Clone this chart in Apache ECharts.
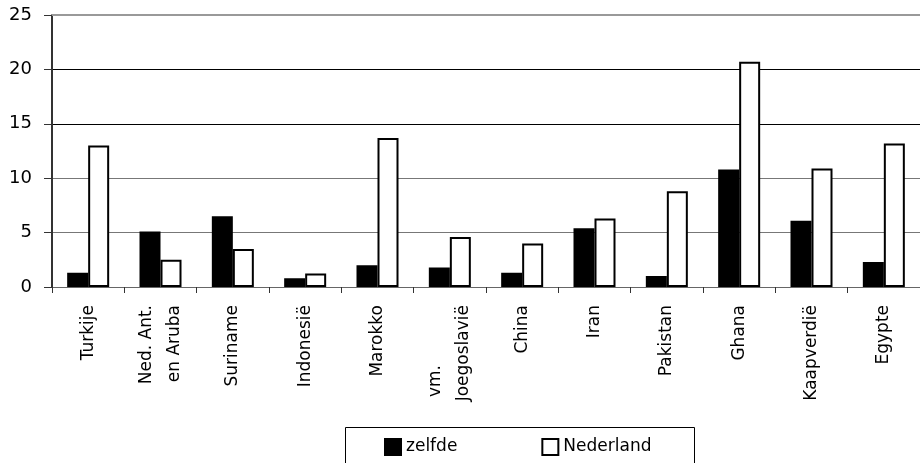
<!DOCTYPE html>
<html>
<head>
<meta charset="utf-8">
<script src="https://cdn.jsdelivr.net/npm/echarts@6/dist/echarts.min.js"></script>
<style>
html,body{margin:0;padding:0;background:#fff;}
#chart{width:920px;height:463px;}
</style>
</head>
<body>
<div id="chart"></div>
<script>
const categories = ['Turkije', 'Ned. Ant.\nen Aruba', 'Suriname', 'Indonesië', 'Marokko', 'vm.\nJoegoslavië', 'China', 'Iran', 'Pakistan', 'Ghana', 'Kaapverdië', 'Egypte'];
const zelfde = [1.3, 5.1, 6.5, 0.8, 2.0, 1.8, 1.3, 5.4, 1.0, 10.8, 6.1, 2.3];
const nederland = [13.0, 2.5, 3.5, 1.25, 13.7, 4.6, 4.0, 6.3, 8.8, 20.7, 10.9, 13.2];
const seriesNames = ['zelfde', 'Nederland'];
const yMin = 0, yMax = 25, yStep = 5;

const FONT = 'DejaVu Sans';
const chart = echarts.init(document.getElementById('chart'), null, {renderer: 'canvas'});

function catFormatter(v) {
  if (v.indexOf('vm.') === 0) {
    const parts = v.split('\n');
    return '{s|' + parts[0] + '}\n{n|' + parts[1] + '}';
  }
  return v;
}

const option = {
  animation: false,
  backgroundColor: '#fff',
  grid: {left: 52, top: 15, bottom: 176, right: -10.5, containLabel: false},
  graphic: [{
    type: 'rect',
    shape: {x: 345.5, y: 427.5, width: 349, height: 50},
    style: {fill: '#fff', stroke: '#000', lineWidth: 1},
    z: 0
  }],
  legend: {
    left: 384, top: 438, padding: 0,
    itemWidth: 16, itemHeight: 16, itemGap: 84,
    icon: 'rect',
    textStyle: {fontFamily: FONT, fontSize: 17, color: '#000'},
    data: seriesNames,
    z: 10
  },
  xAxis: [{
    type: 'category',
    data: categories,
    boundaryGap: true,
    axisLine: {lineStyle: {color: '#666', width: 1}},
    axisTick: {show: true, length: 6, lineStyle: {color: '#333'}},
    axisLabel: {
      rotate: 90, margin: 18, interval: 0,
      fontFamily: FONT, fontSize: 17, color: '#000', lineHeight: 28,
      formatter: catFormatter,
      rich: {
        s: {fontFamily: FONT, fontSize: 17, color: '#000', lineHeight: 28, padding: [0, 60, 0, 0]},
        n: {fontFamily: FONT, fontSize: 17, color: '#000', lineHeight: 28}
      }
    },
    splitLine: {show: false}
  }, {
    type: 'category',
    data: categories,
    position: 'top',
    axisLine: {lineStyle: {color: '#999', width: 2}},
    axisTick: {show: false},
    axisLabel: {show: false},
    splitLine: {show: false}
  }],
  yAxis: {
    type: 'value',
    min: yMin, max: yMax, interval: yStep,
    axisLine: {show: true, lineStyle: {color: '#333', width: 2}},
    axisTick: {show: true, length: 8, lineStyle: {color: '#333'}},
    axisLabel: {margin: 20, fontFamily: FONT, fontSize: 18, color: '#000'},
    splitLine: {show: true, lineStyle: {color: ['#888', '#777', '#777', '#000', '#000', '#999'], width: 1}}
  },
  series: [{
    name: seriesNames[0],
    type: 'bar',
    data: zelfde,
    barWidth: 21,
    barGap: '0%',
    itemStyle: {color: '#000', borderColor: '#000', borderWidth: 2}
  }, {
    name: seriesNames[1],
    type: 'bar',
    data: nederland,
    barWidth: 21,
    barGap: '0%',
    itemStyle: {color: '#fff', borderColor: '#000', borderWidth: 2}
  }]
};
chart.setOption(option);
</script>
</body>
</html>
